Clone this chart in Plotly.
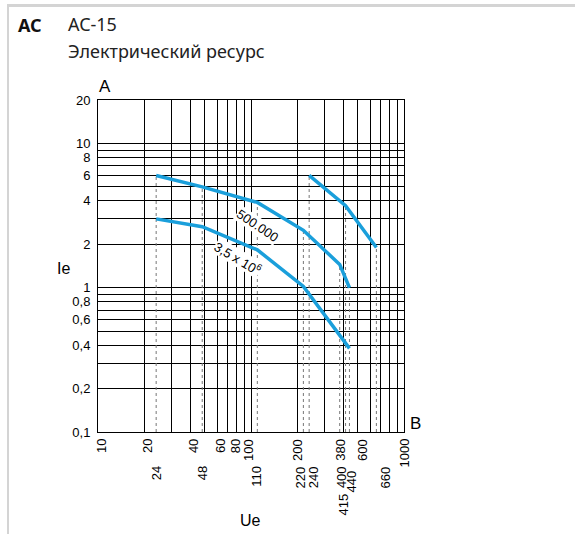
import numpy as np
import plotly.graph_objects as go

# Electrical endurance, AC-15: operational voltage Ue (V) vs. current Ie (A)
ue_500k = [24, 48, 110, 220, 380, 440]
ie_500k = [6.0, 5.0, 3.9, 2.5, 1.45, 1.0]

ue_35m = [24, 48, 110, 220, 440]
ie_35m = [3.0, 2.65, 1.83, 1.02, 0.38]

ue_hi = [240, 415, 660]
ie_hi = [6.0, 3.7, 1.9]

# dotted drop lines: voltage and the current where each line starts
drop_ue = [24, 48, 110, 220, 240, 380, 415, 440, 660]
drop_ie = [6.0, 5.0, 3.9, 2.5, 6.0, 1.45, 3.7, 1.0, 1.9]

# voltage labels under the axis, in three rows
x_row1 = [10, 20, 40, 60, 80, 100, 200, 380, 600, 1000]
x_row2 = [24, 48, 110, 220, 240, 400, 440, 660]
x_row3 = [415]

# grid values and current labels
x_grid = [10, 20, 30, 40, 50, 60, 70, 80, 90, 100, 200, 300, 400, 500, 600, 700, 800, 900, 1000]
y_grid = [0.1, 0.2, 0.3, 0.4, 0.5, 0.6, 0.7, 0.8, 0.9, 1, 2, 3, 4, 5, 6, 7, 8, 9, 10, 20]
y_labels = {0.1: "0,1", 0.2: "0,2", 0.4: "0,4", 0.6: "0,6", 0.8: "0,8", 1: "1",
            2: "2", 4: "4", 6: "6", 8: "8", 10: "10", 20: "20"}

W, H = 575, 534
ML, MR, MT, MB = 98, 171, 100, 102
PW, PH = W - ML - MR, H - MT - MB

BLUE = "#1a9fdb"
SANS = "Liberation Sans, Arial, sans-serif"
TICK_FONT = dict(family=SANS, size=13, color="#000")
HEAD_FONT = "Noto Sans, Open Sans, sans-serif"


def px(x):
    return (x - ML) / PW


def py(y):
    return 1 - (y - MT) / PH


fig = go.Figure()

# dotted drop lines inside the plot area
for u, i in zip(drop_ue, drop_ie):
    fig.add_trace(go.Scatter(
        x=[u, u], y=[0.1, i], mode="lines",
        line=dict(color="#777", width=1, dash="dot"),
        hoverinfo="skip", showlegend=False))

# endurance curves
for xs, ys in [(ue_500k, ie_500k), (ue_35m, ie_35m), (ue_hi, ie_hi)]:
    fig.add_trace(go.Scatter(
        x=xs, y=ys, mode="lines",
        line=dict(color=BLUE, width=3.5),
        hoverinfo="skip", showlegend=False))

shapes = []
# dotted continuation below the axis down to the labels
drop_len = {24: 31, 48: 31, 110: 31, 220: 31, 240: 31, 380: 4, 415: 59, 440: 35, 660: 34}
for u in drop_ue:
    shapes.append(dict(
        type="line", xref="x", yref="paper", ysizemode="pixel", yanchor=0,
        x0=np.log10(u), x1=np.log10(u), y0=0, y1=-drop_len[u],
        line=dict(color="#777", width=1, dash="dot")))

# page frame
shapes.append(dict(type="line", xref="paper", yref="paper",
                   x0=px(8), x1=px(W), y0=py(5.5), y1=py(5.5),
                   line=dict(color="#d4d4d4", width=3)))
shapes.append(dict(type="line", xref="paper", yref="paper",
                   x0=px(8), x1=px(8), y0=py(4), y1=py(H),
                   line=dict(color="#d4d4d4", width=2)))

annotations = []

# voltage labels
row_shift = {1: -6, 2: -33, 3: -61}
x_shift = {10: 3, 20: 3, 40: 3, 60: 3, 80: -1, 100: -3, 200: 0, 380: 0, 600: -8, 1000: 0,
           24: 0, 48: 0, 110: -1, 220: -3, 240: 4, 400: -2, 440: 2, 660: 9, 415: -3}
extra_y = {440: -4}
for row, vals in [(1, x_row1), (2, x_row2), (3, x_row3)]:
    for v in vals:
        annotations.append(dict(
            x=np.log10(v), y=0, xref="x", yref="paper",
            text=str(v), textangle=-90, showarrow=False,
            xanchor="center", yanchor="top",
            xshift=x_shift.get(v, 0), yshift=row_shift[row] + extra_y.get(v, 0),
            font=TICK_FONT, borderpad=0))

# curve labels
annotations.append(dict(
    x=np.log10(110), y=np.log10(2.7), xref="x", yref="y",
    text="500.000", textangle=34, showarrow=False,
    font=dict(family=SANS, size=13, color="#000"),
    bgcolor="white", borderpad=0))
annotations.append(dict(
    x=np.log10(82), y=np.log10(1.6), xref="x", yref="y",
    text="3,5 x 10<sup>6</sup>", textangle=31, showarrow=False,
    font=dict(family=SANS, size=13, color="#000"),
    bgcolor="white", borderpad=0))

# axis names
ax_font = dict(family=SANS, size=17, color="#000")
name_font = dict(family=SANS, size=16, color="#000")
for x, y, t, f in [(105, 87, "A", ax_font), (415, 423, "B", ax_font),
                   (63, 268, "Ie", name_font), (250, 520, "Ue", name_font)]:
    annotations.append(dict(x=px(x), y=py(y), xref="paper", yref="paper", text=t,
                            showarrow=False, xanchor="center", yanchor="middle", font=f))

# header
for x, y, t, c in [(16, 25, "<b>AC</b>", "#111"), (66, 24, "AC-15", "#222"),
                   (66, 51, "Электрический ресурс", "#222")]:
    annotations.append(dict(x=px(x), y=py(y), xref="paper", yref="paper", text=t,
                            showarrow=False, xanchor="left", yanchor="middle",
                            font=dict(family=HEAD_FONT, size=18, color=c)))

fig.update_layout(
    width=W, height=H,
    margin=dict(l=ML, r=MR, t=MT, b=MB, pad=0),
    paper_bgcolor="white", plot_bgcolor="white",
    shapes=shapes, annotations=annotations,
    xaxis=dict(
        type="log", range=[1, 3], tickvals=x_grid, showticklabels=False, ticks="",
        showgrid=True, gridcolor="#000", gridwidth=1,
        showline=True, linecolor="#000", linewidth=1, mirror=True, zeroline=False),
    yaxis=dict(
        type="log", range=[np.log10(0.1), np.log10(20)], tickvals=y_grid,
        ticktext=[y_labels.get(v, "") for v in y_grid], ticks="",
        tickfont=dict(family=SANS, size=13, color="#000"),
        ticklabelstandoff=4,
        showgrid=True, gridcolor="#000", gridwidth=1,
        showline=True, linecolor="#000", linewidth=1, mirror=True, zeroline=False),
)

fig.write_html("out.html")
